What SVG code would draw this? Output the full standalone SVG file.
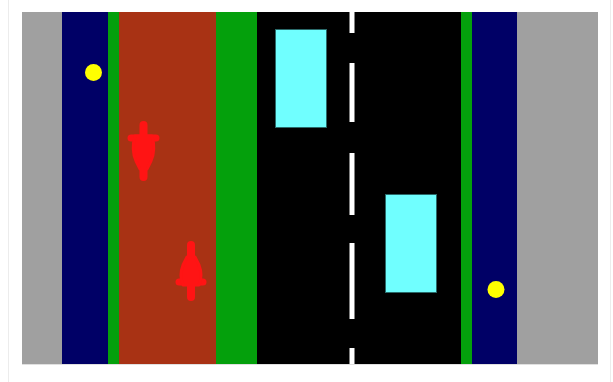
<svg xmlns="http://www.w3.org/2000/svg" width="613" height="382" viewBox="0 0 613 382">
<style>
.car{fill:#70ffff;stroke:#2a6a6a;stroke-width:1}
.dash{fill:#ffffff}
.dot{fill:#ffff00}
.bike{fill:#ff1414;stroke:#ff1414;stroke-linecap:round;stroke-linejoin:round}
</style>
<rect width="613" height="382" fill="#ffffff"/>
<line x1="8.5" y1="0" x2="8.5" y2="382" stroke="#ececec" stroke-width="1"/>
<line x1="610.5" y1="0" x2="610.5" y2="382" stroke="#ececec" stroke-width="1"/>
<g id="street">
<rect x="22" y="12" width="576" height="352" fill="#a0a0a0"/>
<line x1="22" y1="364.5" x2="598" y2="364.5" stroke="#e0e0e0" stroke-width="1"/>
<rect x="62" y="12" width="46" height="352" fill="#000066"/>
<rect x="108" y="12" width="11" height="352" fill="#04a00c"/>
<rect x="119" y="12" width="97" height="352" fill="#a83214"/>
<rect x="216" y="12" width="41" height="352" fill="#04a00c"/>
<rect x="257" y="12" width="204" height="352" fill="#000000"/>
<rect x="461" y="12" width="11" height="352" fill="#04a00c"/>
<rect x="472" y="12" width="45" height="352" fill="#000066"/>
</g>
<g id="lane-markings">
<rect class="dash" x="349.5" y="12" width="5" height="21"/>
<rect class="dash" x="349.5" y="63" width="5" height="59"/>
<rect class="dash" x="349.5" y="153" width="5" height="62"/>
<rect class="dash" x="349.5" y="243" width="5" height="76"/>
<rect class="dash" x="349.5" y="348" width="5" height="16"/>
</g>
<g id="car-1"><rect class="car" x="275.5" y="29.5" width="51" height="98"/></g>
<g id="car-2"><rect class="car" x="385.5" y="194.5" width="51" height="98"/></g>
<g id="lamp-1"><circle class="dot" cx="93.5" cy="72.5" r="8.5"/></g>
<g id="lamp-2"><circle class="dot" cx="496" cy="289.5" r="8.5"/></g>
<g id="cyclist-1">
<line class="bike" x1="143.5" y1="125" x2="143.5" y2="177" stroke-width="8"/>
<line class="bike" x1="131" y1="138" x2="156" y2="138" stroke-width="7"/>
<path class="bike" d="M135,136 L152,136 Q156,150 151,161 L147,169 L140,169 L136,161 Q131,150 135,136 Z" stroke-width="3"/>
</g>
<g id="cyclist-2">
<line class="bike" x1="191" y1="245" x2="191" y2="297" stroke-width="8"/>
<line class="bike" x1="179" y1="282" x2="203" y2="282" stroke-width="7"/>
<path class="bike" d="M187,257 L195,257 L199,265 Q203,275 199,285 L183,285 Q179,275 183,265 Z" stroke-width="3"/>
</g>
</svg>
